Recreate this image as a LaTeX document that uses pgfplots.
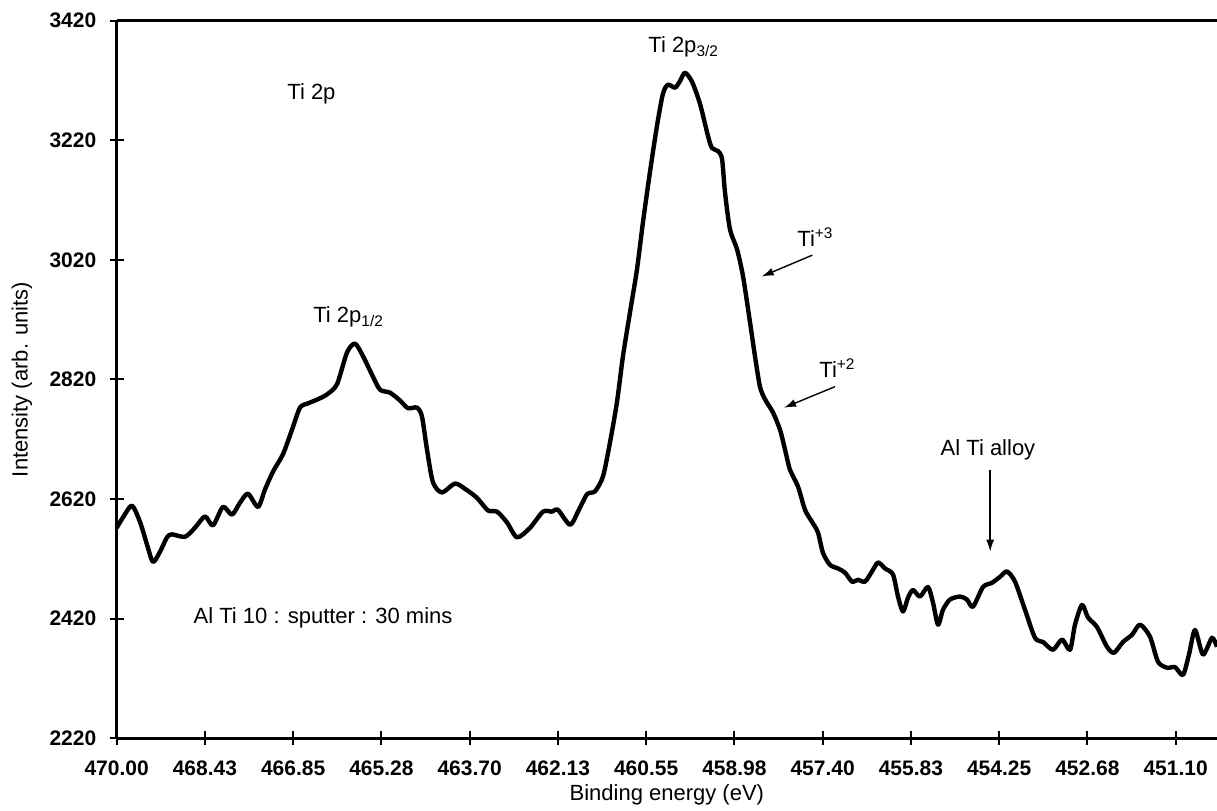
\documentclass[border=0pt]{standalone}
\usepackage{pgfplots}
\pgfplotsset{compat=1.18}
\usepackage{pgfplotstable}
\usepackage{fontspec}
\setmainfont{Liberation Sans}
\usetikzlibrary{arrows.meta}

\pgfplotstableread{
x y
470.000 2572
469.870 2592
469.727 2609
469.584 2582
469.459 2544
469.352 2515
469.227 2532
469.102 2556
469.013 2561
468.781 2557
468.603 2572
468.424 2591
468.281 2576
468.103 2607
467.942 2594
467.799 2614
467.657 2629
467.478 2607
467.353 2636
467.210 2666
467.032 2695
466.871 2736
466.728 2773
466.586 2780
466.407 2787
466.247 2795
466.068 2812
465.890 2865
465.747 2880
465.604 2859
465.443 2828
465.301 2803
465.122 2798
464.944 2785
464.801 2772
464.640 2773
464.551 2758
464.462 2703
464.355 2648
464.194 2631
463.962 2646
463.766 2636
463.569 2622
463.373 2601
463.212 2599
463.034 2581
462.855 2556
462.623 2572
462.391 2599
462.231 2599
462.124 2602
461.909 2577
461.767 2599
461.606 2628
461.463 2633
461.320 2658
461.195 2715
461.071 2782
460.964 2859
460.839 2932
460.714 3004
460.607 3083
460.482 3167
460.357 3244
460.250 3298
460.160 3313
460.035 3308
459.946 3319
459.857 3333
459.732 3318
459.589 3281
459.446 3227
459.375 3207
459.268 3202
459.196 3189
459.143 3133
459.054 3071
458.929 3038
458.822 2993
458.697 2916
458.608 2859
458.519 2808
458.430 2787
458.287 2765
458.161 2736
458.072 2703
457.983 2669
457.840 2641
457.715 2602
457.590 2582
457.483 2564
457.394 2530
457.269 2510
457.126 2504
457.001 2497
456.876 2482
456.769 2485
456.644 2482
456.519 2499
456.412 2514
456.287 2504
456.145 2494
456.055 2457
455.966 2432
455.877 2455
455.788 2468
455.663 2457
455.520 2473
455.431 2447
455.341 2410
455.252 2435
455.127 2452
454.949 2457
454.824 2452
454.717 2440
454.538 2473
454.378 2480
454.235 2490
454.110 2499
453.967 2482
453.789 2435
453.610 2388
453.467 2381
453.289 2368
453.128 2385
452.985 2368
452.896 2410
452.771 2443
452.664 2422
452.503 2406
452.325 2373
452.200 2363
452.040 2381
451.879 2393
451.736 2410
451.558 2390
451.415 2348
451.254 2338
451.111 2339
450.969 2326
450.862 2360
450.754 2401
450.612 2360
450.451 2388
450.362 2373
}\spectrum

\begin{document}
\begin{tikzpicture}
\begin{axis}[
  name=ax,
  scale only axis,
  width=550.15pt, height=358.8pt,
  x dir=reverse,
  xmin=450.362, xmax=470,
  ymin=2220, ymax=3420,
  axis x line*=box,
  axis y line*=left,
  axis line style={-, line width=1.3pt},
  xtick={470,468.425,466.85,465.275,463.7,462.125,460.55,458.975,457.4,455.825,454.25,452.675,451.1},
  xticklabels={470.00,468.43,466.85,465.28,463.70,462.13,460.55,458.98,457.40,455.83,454.25,452.68,451.10},
  xtick pos=left,
  ytick={2220,2420,2620,2820,3020,3220,3420},
  ytick pos=left,
  tick align=center,
  major tick length=7pt,
  tick style={line width=1pt, black},
  /pgf/number format/1000 sep={},
  /pgf/number format/assume math mode=true,
  tick label style={font=\bfseries\fontsize{10.5}{12}\selectfont},
  xticklabel style={inner sep=0pt, yshift=-7.5pt},
  yticklabel style={inner sep=0pt, xshift=-6.5pt},
  xlabel={Binding energy (eV)},
  ylabel={Intensity (arb. units)},
  label style={font=\fontsize{11}{13}\selectfont},
  xlabel style={at={(axis description cs:0.5,-0.079)}, anchor=center},
  ylabel style={at={(axis description cs:-0.086,0.5)}, anchor=center},
  clip=false,
]
\addplot[black, line width=2.2pt, line join=round, smooth, tension=0.45] table {\spectrum};

\begin{scope}[font=\fontsize{11}{13}\selectfont]
\node[anchor=base west, inner sep=0pt] at (axis cs:466.960,3288) {Ti 2p};
\node[anchor=base west, inner sep=0pt] at (axis cs:466.497,2915) {Ti 2p\textsubscript{1/2}};
\node[anchor=base west, inner sep=0pt] at (axis cs:460.517,3366) {Ti 2p\textsubscript{3/2}};
\node[anchor=base west, inner sep=0pt] at (axis cs:457.858,3043) {Ti\textsuperscript{+3}};
\node[anchor=base west, inner sep=0pt] at (axis cs:457.465,2823) {Ti\textsuperscript{+2}};
\node[anchor=base, inner sep=0pt] at (axis cs:454.449,2693) {Al Ti alloy};
\node[anchor=base west, inner sep=0pt] at (axis cs:468.633,2412.6) {Al Ti 10 : sputter : 30 mins};
\end{scope}
\draw[line width=0.7pt, -{Latex[length=6pt,width=4pt]}] (axis cs:457.585,3027.9) -- (axis cs:458.488,2992.2);
\draw[line width=0.7pt, -{Latex[length=6pt,width=4pt]}] (axis cs:457.18,2808) -- (axis cs:458.09,2772.8);
\draw[line width=0.7pt, -{Latex[length=6pt,width=4pt]}] (axis cs:454.41,2669) -- (axis cs:454.41,2532);
\coordinate (sw) at (rel axis cs:0,0);
\coordinate (ne) at (rel axis cs:1,1);
\end{axis}
\pgfresetboundingbox
\path ([xshift=-58.35pt,yshift=-36.35pt]sw) rectangle ([yshift=10.35pt]ne);
\end{tikzpicture}
\end{document}
